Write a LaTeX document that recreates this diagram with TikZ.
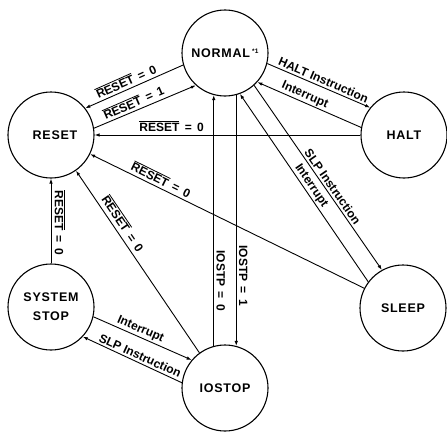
\documentclass[tikz,border=0pt]{standalone}
\usepackage{fontspec}
\usepackage{graphicx}
\setmainfont{Liberation Sans}
\newfontfamily\widefont{Liberation Sans}[LetterSpace=6]
\usetikzlibrary{arrows.meta,calc}
\newsavebox\ovbox
\newcommand{\nrst}{\sbox\ovbox{RESET}\rlap{\rule[\dimexpr\ht\ovbox+1.2pt\relax]{\wd\ovbox}{0.8pt}}\usebox\ovbox}
\newcommand{\eqsign}{\hspace{0.45em}=\hspace{0.45em}}
% name, coordinate, angle, offset, text
\newcommand{\lab}[5]{\node[lbl] (#1) at ([shift={(#3+90:#4)}]#2) {\rotatebox{#3}{#5}};}
\begin{document}
\begin{tikzpicture}[x=1pt,y=1pt,
  state/.style={circle, draw, line width=1.1pt, minimum size=86pt, inner sep=0pt,
    font=\widefont\bfseries\fontsize{12.5}{19}\selectfont, align=center},
  conn/.style={line width=0.9pt, -{Latex[length=5pt,width=3.5pt]}},
  lbl/.style={font=\bfseries\fontsize{12}{14}\selectfont, inner sep=0pt}
]
\useasboundingbox (0,0) rectangle (447,-431);
\node[state] (N) at (225,-53) {NORMAL\,\raisebox{0.6ex}{\fontsize{6.5}{7}\selectfont *1}};
\node[state] (R) at (51,-135) {\hspace{8pt}RESET};
\node[state] (H) at (404,-135) {HALT};
\node[state] (SL) at (403,-308) {SLEEP};
\node[state] (IO) at (225,-388) {IOSTOP};
\node[state] (SS) at (51,-307) {SYSTEM\\STOP};

\draw[conn] (N.196) -- coordinate[pos=0.55] (c1) (R.38);
\draw[conn] (R.9) -- coordinate[pos=0.42] (c2) (N.228);
\draw[conn] (H.180) -- coordinate[pos=0.71] (c3) (R.0);
\draw[conn] (N.346) -- coordinate[pos=0.52] (c4) (H.141);
\draw[conn] (H.170) -- coordinate[pos=0.57] (c5) (N.318);
\draw[conn] (N.312) -- coordinate[pos=0.57] (c6) (SL.119);
\draw[conn] (SL.143) -- coordinate[pos=0.49] (c7) (N.290);
\draw[conn] (SL.153) -- coordinate[pos=0.754] (c8) (R.334);
\draw[conn] (IO.126) -- coordinate[pos=0.68] (c9) (R.305);
\draw[conn] (SS.north) -- coordinate[pos=0.48] (c10) (R.south);
\draw[conn] (IO.105) -- coordinate[pos=0.26] (c11) (N.255);
\draw[conn] (N.285) -- coordinate[pos=0.72] (c12) (IO.75);
\draw[conn] (SS.347) -- coordinate[pos=0.45] (c13) (IO.140);
\draw[conn] (IO.173) -- coordinate[pos=0.45] (c14) (SS.317);

\lab{l1}{c1}{24}{8.5pt}{\nrst\eqsign 0}
\lab{l2}{c2}{23.5}{8.5pt}{\nrst\eqsign 1}
\lab{l3}{c3}{0}{8.5pt}{\nrst\eqsign 0}
\lab{l4}{c4}{-23.3}{7pt}{HALT Instruction}
\lab{l5}{c5}{-23.7}{7pt}{Interrupt}
\lab{l6}{c6}{-55.2}{7pt}{SLP Instruction}
\lab{l7}{c7}{-55.6}{7pt}{Interrupt}
\lab{l8}{c8}{-26.2}{8.5pt}{\nrst\eqsign 0}
\lab{l9}{c9}{-55.9}{9.5pt}{\nrst\eqsign 0}
\lab{l10}{c10}{-90}{9pt}{\nrst\eqsign 0}
\lab{l11}{c11}{-90}{7pt}{IOSTP\eqsign 0}
\lab{l12}{c12}{-90}{7pt}{IOSTP\eqsign 1}
\lab{l13}{c13}{-23.4}{7pt}{Interrupt}
\lab{l14}{c14}{-24.5}{7pt}{SLP Instruction}
\end{tikzpicture}
\end{document}
